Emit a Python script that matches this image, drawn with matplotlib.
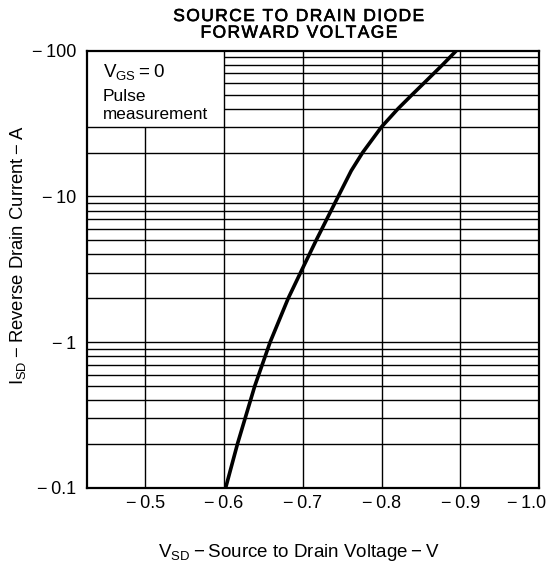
import matplotlib
matplotlib.use("Agg")
import matplotlib.pyplot as plt
import matplotlib.patheffects as pe
from matplotlib.ticker import NullLocator
from matplotlib.transforms import ScaledTranslation

plt.rcParams['font.family'] = ['Liberation Sans', 'DejaVu Sans']
plt.rcParams['mathtext.fontset'] = 'custom'
plt.rcParams['mathtext.rm'] = 'Liberation Sans'

# Curve data (magnitudes: V_SD in volts, I_SD in amps)
vsd = [0.602, 0.617, 0.639, 0.6585, 0.6815, 0.699, 0.717, 0.745, 0.7615,
       0.776, 0.800, 0.821, 0.839, 0.854, 0.8775, 0.895]
isd = [0.1, 0.2, 0.5, 1.0, 2.0, 3.15, 5, 10, 15,
       20, 30, 40, 50, 60, 80, 100]

xticks = [0.5, 0.6, 0.7, 0.8, 0.9, 1.0]
xticklabels = ["\u2212\u20090.5", "\u2212\u20090.6", "\u2212\u20090.7", "\u2212\u20090.8", "\u2212\u20090.9", "\u2212\u20091.0"]
yticks = [0.1, 1, 10, 100]
yticklabels = ["\u2212\u20090.1", "\u2212\u20091", "\u2212\u200910", "\u2212\u2009100"]

title_lines = ["SOURCE TO DRAIN DIODE", "FORWARD VOLTAGE"]

fig = plt.figure(figsize=(5.49, 5.70), dpi=100)
ax = fig.add_axes([0.1585, 0.1439, 0.8233, 0.7672])
xmin, xmax = 0.426, 1.0
ax.set_xlim(xmin, xmax)
ax.set_yscale('log')
ax.set_ylim(0.1, 100)

gc = 'black'
glw = 1.0
# horizontal grid lines
for dec in [0.1, 1, 10]:
    for m in range(1, 10):
        y = dec * m
        if y <= 0.1 or y >= 100:
            continue
        if y >= 40:
            ax.hlines(y, 0.6, xmax, color=gc, lw=glw, zorder=1)
        else:
            ax.hlines(y, xmin, xmax, color=gc, lw=glw, zorder=1)
# vertical grid lines
for x in xticks[:-1]:
    if x < 0.6:
        ax.vlines(x, 0.1, 30, color=gc, lw=glw, zorder=1)
    else:
        ax.vlines(x, 0.1, 100, color=gc, lw=glw, zorder=1)

ax.plot(vsd, isd, color='black', lw=2.6, zorder=3, solid_joinstyle='round')

ax.set_xticks(xticks)
ax.set_xticklabels(xticklabels, fontsize=13)
ax.set_yticks(yticks)
ax.set_yticklabels(yticklabels, fontsize=13)
ax.yaxis.set_minor_locator(NullLocator())
ax.tick_params(axis='y', length=0, pad=8)
ax.tick_params(axis='x', length=0, pad=5)
for s in ax.spines.values():
    s.set_linewidth(1.6)

# shift the last x tick label so it stays inside the figure
last = ax.get_xticklabels()[-1]
last.set_transform(last.get_transform() + ScaledTranslation(-12 / 100, 0, fig.dpi_scale_trans))

ax.text(0.446, 71, "V$_{\\mathregular{GS}}$\u2009=\u20090", fontsize=13.5, va='center', ha='left')
ax.text(0.446, 48.5, "Pulse", fontsize=12.5, va='center', ha='left')
ax.text(0.446, 36.5, "measurement", fontsize=12.3, va='center', ha='left')

stroke = [pe.withStroke(linewidth=0.45, foreground='black')]
for t, yy in zip(title_lines, [0.971, 0.942]):
    fig.text(0.545, yy, "\u200a".join(t), fontsize=12.5, ha='center', va='center',
             path_effects=stroke)

fig.text(0.545, 0.030, "V$_{\\mathregular{SD}}$\u2009\u2212\u2009Source to Drain Voltage\u2009\u2212\u2009V",
         fontsize=13.5, ha='center', va='center')
fig.text(0.033, 0.553, "I$_{\\mathregular{SD}}$\u2009\u2212\u2009Reverse Drain Current\u2009\u2212\u2009A",
         fontsize=13.3, ha='center', va='center', rotation=90)

fig.savefig("out.png", dpi=100)
